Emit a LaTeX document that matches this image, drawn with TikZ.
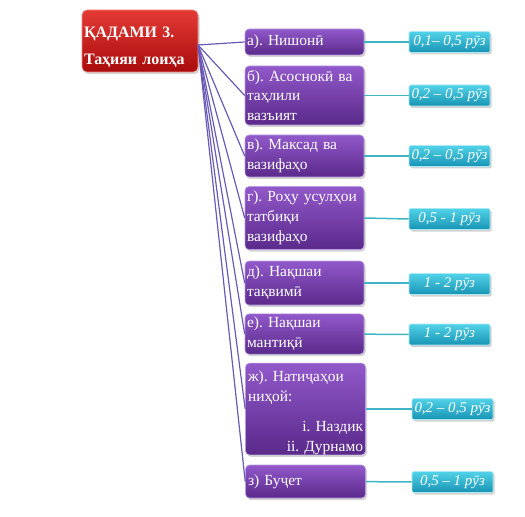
\documentclass[tikz,border=0pt]{standalone}
\usepackage{fontspec}
\setmainfont{Liberation Serif}
\usepackage{xcolor}
\usetikzlibrary{shadows}
\frenchspacing

\definecolor{stepTop}{HTML}{E43A36}
\definecolor{stepBot}{HTML}{A80C0C}
\definecolor{stepEdge}{HTML}{F08A84}
\definecolor{taskTop}{HTML}{9158CA}
\definecolor{taskBot}{HTML}{5A2A8A}
\definecolor{taskEdge}{HTML}{B89CE2}
\definecolor{daysTop}{HTML}{52D2E8}
\definecolor{daysBot}{HTML}{1794B4}
\definecolor{daysEdge}{HTML}{A8E8F2}
\definecolor{fanLine}{HTML}{6A5AB6}
\definecolor{daysLine}{HTML}{3FB4C6}

\begin{document}
\begin{tikzpicture}[x=1bp,y=-1bp,
    stepbox/.style={rounded corners=5bp, draw=stepEdge, line width=0.6bp,
      top color=stepTop, bottom color=stepBot, text=white,
      minimum width=116bp, minimum height=62bp, text width=112bp,
      inner xsep=2bp, align=left, text height=22bp, text depth=28bp,
      font=\bfseries\fontsize{16}{27}\selectfont,
      drop shadow={shadow xshift=1.5bp, shadow yshift=-2bp, opacity=0.35}},
    taskbox/.style={rounded corners=4bp, draw=taskEdge, line width=0.6bp,
      top color=taskTop, bottom color=taskBot, text=white,
      minimum width=119bp, text width=115bp, inner xsep=2bp,
      align=left, font=\fontsize{15.5}{20}\selectfont,
      drop shadow={shadow xshift=1.5bp, shadow yshift=-2bp, opacity=0.35}},
    daysbox/.style={rounded corners=1.5bp, draw=daysEdge, line width=0.6bp,
      top color=daysTop, bottom color=daysBot, text=white,
      minimum width=81bp, minimum height=21bp, inner sep=1bp,
      font=\itshape\fontsize{15}{17}\selectfont,
      drop shadow={shadow xshift=1.5bp, shadow yshift=-2bp, opacity=0.35}},
    fan/.style={draw=fanLine, line width=1.2bp},
    link/.style={draw=daysLine, line width=1.5bp}]

    \useasboundingbox (0,0) rectangle (525,517);

    % step
    \path (140,41) node [stepbox] (step) {ҚАДАМИ 3.\\Таҳияи лоиҳа};
    \coordinate (hub) at (198,45);

    % tasks
    \path (304.5,42) node [taskbox, minimum height=26bp] (a) {а). Нишонӣ};
    \path (304.5,95.5) node [taskbox, minimum height=59bp] (b)
	{б). Асоснокӣ ва\\таҳлили\\вазъият};
    \path (304.5,156) node [taskbox, minimum height=42bp] (v)
	{в). Максад ва\\вазифаҳо};
    \path (304.5,218) node [taskbox, minimum height=63bp] (g)
	{г). Роҳу усулҳои\\татбиқи\\вазифаҳо};
    \path (304.5,283) node [taskbox, minimum height=44bp] (d)
	{д). Нақшаи\\тақвимӣ};
    \path (304.5,334) node [taskbox, minimum height=38bp] (e)
	{е). Нақшаи\\мантиқӣ};
    \path (305.5,409) node [taskbox, minimum width=120bp,
	text height=15bp, text depth=70bp] (zh)
	{ж). Натиҷаҳои\\ниҳой:\\[10bp]\hspace*{\fill}i. Наздик\\\hspace*{\fill}ii. Дурнамо};
    \path (305.5,481.5) node [taskbox, minimum height=33bp, minimum width=120bp] (z)
	{з) Буҷет};

    \draw [fan] (hub) -- (a.west);
    \draw [fan] (hub) -- (b.west);
    \draw [fan] (hub) -- (v.west);
    \draw [fan] (hub) -- (g.west);
    \draw [fan] (hub) -- (d.west);
    \draw [fan] (hub) -- (e.west);
    \draw [fan] (hub) -- (zh.west);
    \draw [fan] (hub) -- (z.west);

    % days
    \path (449.5,42) node [daysbox] (ad) {0,1– 0,5 рӯз};
    \path (449.5,95.5) node [daysbox] (bd) {0,2 – 0,5 рӯз};
    \path (449.5,156) node [daysbox] (vd) {0,2 – 0,5 рӯз};
    \path (449.5,219) node [daysbox] (gd) {0,5 - 1 рӯз};
    \path (449.5,284) node [daysbox] (dd) {1 - 2 рӯз};
    \path (449.5,334.5) node [daysbox] (ed) {1 - 2 рӯз};
    \path (452.5,409) node [daysbox] (zhd) {0,2 – 0,5 рӯз};
    \path (452.5,482) node [daysbox] (zd) {0,5 – 1 рӯз};

    \draw [link] (a) -- (ad);
    \draw [link] (b) -- (bd);
    \draw [link] (v) -- (vd);
    \draw [link] (g.east) -- (gd.west);
    \draw [link] (d.east) -- (d.east -| dd.west);
    \draw [link] (e) -- (ed);
    \draw [link] (zh) -- (zhd);
    \draw [link] (z) -- (zd);
\end{tikzpicture}
\end{document}
